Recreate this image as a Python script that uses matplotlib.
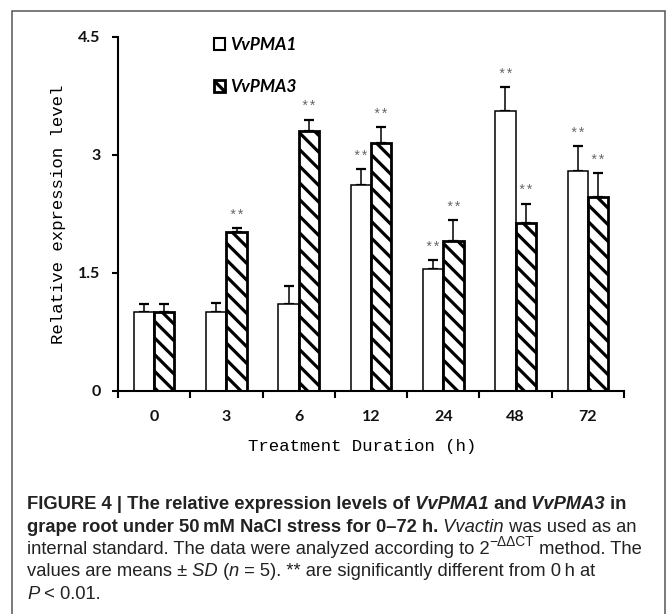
import numpy as np
import matplotlib.pyplot as plt
from matplotlib.patches import Patch, Rectangle

# relative expression (2^-ddCT), means and SD, n = 5
hours = ['0', '3', '6', '12', '24', '48', '72']
pma1 = [1.00, 1.00, 1.11, 2.62, 1.55, 3.56, 2.80]
pma1_sd = [0.10, 0.12, 0.23, 0.20, 0.11, 0.30, 0.31]
pma3 = [1.01, 2.02, 3.31, 3.15, 1.91, 2.13, 2.47]
pma3_sd = [0.09, 0.05, 0.14, 0.20, 0.26, 0.25, 0.30]
sig1 = [False, False, False, True, True, True, True]
sig3 = [False, True, True, True, True, True, True]

W, H = 670, 614
plt.rcParams['hatch.linewidth'] = 2.3

fig = plt.figure(figsize=(W / 100, H / 100), dpi=100)
ax = fig.add_axes([118 / W, 1 - 391 / H, 506 / W, 354 / H])

x = np.arange(len(hours)) + 0.5
bw = 0.28

ax.bar(x - bw / 2, pma1, bw, color='white', edgecolor='black', linewidth=1.1, zorder=2)
ax.bar(x + bw / 2, pma3, bw, color='white', edgecolor='black', linewidth=2.0,
       hatch='\\\\', zorder=2)
ax.errorbar(x - bw / 2, pma1, yerr=[np.zeros(len(pma1)), pma1_sd], fmt='none',
            ecolor='black', elinewidth=1.1, capsize=3.5, capthick=1.6, zorder=1)
ax.errorbar(x + bw / 2, pma3, yerr=[np.zeros(len(pma3)), pma3_sd], fmt='none',
            ecolor='black', elinewidth=1.1, capsize=3.5, capthick=1.6, zorder=1)

# significance marks above the error bars
for xi, v, e, s in zip(x - bw / 2, pma1, pma1_sd, sig1):
    if s:
        ax.annotate('**', (xi, v + e), xytext=(0, 9), textcoords='offset points',
                    ha='center', va='center', fontsize=10, color='#666666',
                    family='Liberation Mono')
for xi, v, e, s in zip(x + bw / 2, pma3, pma3_sd, sig3):
    if s:
        ax.annotate('**', (xi, v + e), xytext=(0, 9), textcoords='offset points',
                    ha='center', va='center', fontsize=10, color='#666666',
                    family='Liberation Mono')

ax.set_xlim(0, len(hours))
ax.set_ylim(0, 4.5)
ax.set_yticks([0, 1.5, 3, 4.5])
ax.set_yticklabels(['0', '1.5', '3', '4.5'])
ax.set_xticks(np.arange(len(hours) + 1))
ax.set_xticklabels([])
ax.set_xticks(x, minor=True)
ax.set_xticklabels(hours, minor=True)
ax.tick_params(axis='x', which='major', direction='out', length=5, width=1.5)
ax.tick_params(axis='x', which='minor', length=0, pad=14)
ax.tick_params(axis='y', direction='out', length=4.5, width=1.5, pad=8)
for lab in ax.get_xticklabels(minor=True) + ax.get_yticklabels():
    lab.set_family('Lato')
    lab.set_fontweight('bold')
    lab.set_fontsize(11.5)
    lab.set_color('#111111')
for side in ['top', 'right']:
    ax.spines[side].set_visible(False)
for side in ['left', 'bottom']:
    ax.spines[side].set_linewidth(1.5)

fig.text(58 / W, 1 - 214 / H, 'Relative expression level', rotation=90,
         ha='center', va='center', family='Liberation Mono', fontsize=12.5)
fig.text(362 / W, 1 - 447 / H, 'Treatment Duration (h)',
         ha='center', va='center', family='Liberation Mono', fontsize=12.5)

handles = [Patch(facecolor='white', edgecolor='black', linewidth=1.5),
           Patch(facecolor='white', edgecolor='black', linewidth=2.0, hatch='\\\\')]
ax.legend(handles, ['VvPMA1', 'VvPMA3'], loc='upper left',
          bbox_to_anchor=(214 / W, 1 - 37 / H), bbox_transform=fig.transFigure,
          frameon=False, handlelength=0.65, handleheight=0.65, handletextpad=0.3,
          labelspacing=1.5, borderpad=0, borderaxespad=0,
          prop={'family': 'Lato', 'weight': 'bold', 'style': 'italic', 'size': 12.5})

# outer frame
fig.add_artist(Rectangle((12 / W, -0.05), (665 - 12) / W, 1.05 - 11 / H,
                         transform=fig.transFigure, fill=False,
                         edgecolor='#555555', linewidth=1.1))

# caption, written in runs of mixed style
renderer = fig.canvas.get_renderer()
styles = {
    'b': dict(fontweight='bold'),
    'bi': dict(fontweight='bold', fontstyle='italic'),
    'r': dict(),
    'i': dict(fontstyle='italic'),
}
cap_size = 13.2


def draw_runs(x0, base, runs):
    xp = x0
    for s, st, *rest in runs:
        size = cap_size
        dy = 0
        if rest:
            size = cap_size * 0.75
            dy = rest[0]
        t = fig.text(xp / W, 1 - (base - dy) / H, s, ha='left', va='baseline',
                     family='Liberation Sans', fontsize=size, color='#222222',
                     **styles[st])
        xp += t.get_window_extent(renderer).width


lines = [
    [('FIGURE 4 | The relative expression levels of', 'b'), (' VvPMA1', 'bi'),
     (' and', 'b'), (' VvPMA3', 'bi'), (' in', 'b')],
    [('grape root under 50\u2009mM NaCl stress for 0\u201372 h.', 'b'),
     (' Vvactin', 'i'), (' was used as an', 'r')],
    [('internal standard. The data were analyzed according to 2', 'r'),
     ('\u2212\u0394\u0394CT', 'r', 8), (' method. The', 'r')],
    [('values are means \u00b1', 'r'), (' SD', 'i'), (' (', 'r'), ('n', 'i'),
     (' = 5). ** are significantly different from 0\u2009h at', 'r')],
    [('P', 'i'), (' < 0.01.', 'r')],
]
for k, runs in enumerate(lines):
    draw_runs(27, 509 + 22.5 * k, runs)

fig.savefig('out.png', dpi=100)
